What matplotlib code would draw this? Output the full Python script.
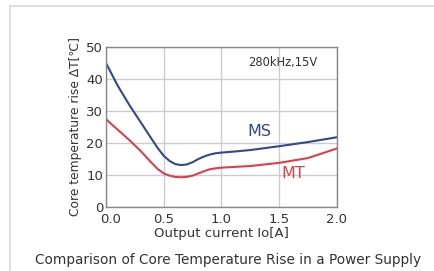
import matplotlib.pyplot as plt
from matplotlib.patches import Rectangle
from matplotlib.transforms import ScaledTranslation

# values
current = [0.0, 0.05, 0.1, 0.15, 0.2, 0.3, 0.4, 0.45, 0.5, 0.55, 0.6, 0.65, 0.7, 0.75,
           0.8, 0.85, 0.9, 0.95, 1.0, 1.1, 1.25, 1.5, 1.75, 2.0]
ms_rise = [45.0, 41.5, 38.0, 35.0, 32.0, 26.5, 21.0, 18.3, 16.0, 14.4, 13.4, 13.1,
           13.3, 14.0, 15.0, 15.8, 16.4, 16.8, 17.0, 17.3, 17.8, 19.0, 20.3, 21.8]
mt_rise = [27.5, 25.8, 24.2, 22.6, 21.0, 17.5, 13.6, 11.8, 10.5, 9.8, 9.4, 9.3,
           9.4, 9.8, 10.5, 11.2, 11.8, 12.1, 12.3, 12.5, 12.8, 13.8, 15.3, 18.3]

xticks = [0.0, 0.5, 1.0, 1.5, 2.0]
yticks = [0, 10, 20, 30, 40, 50]

blue = "#34478f"
red = "#dc3f4c"
txt = "#333333"

plt.rcParams['font.family'] = ['DejaVu Sans']

fig = plt.figure(figsize=(4.34, 2.71), dpi=100)
fig.patch.set_facecolor("white")

# light frame around the whole figure
fig.patches.append(Rectangle((10 / 434, -0.05), 1.0, 1.05 - 6 / 271,
                             transform=fig.transFigure, fill=False,
                             edgecolor="#d8d8d8", linewidth=1.2))

ax = fig.add_axes([106 / 434, 1 - 207 / 271, 231 / 434, 160 / 271])
ax.plot(current, ms_rise, color=blue, linewidth=1.5)
ax.plot(current, mt_rise, color=red, linewidth=1.5)

ax.set_xlim(0, 2.0)
ax.set_ylim(0, 50)
ax.set_xticks(xticks)
ax.set_yticks(yticks)
ax.set_xticklabels([f"{v:.1f}" for v in xticks])
ax.grid(True, color="#cccccc", linewidth=1.0)
ax.tick_params(length=0, labelsize=9.5, colors=txt)
ax.tick_params(axis="y", pad=2)
ax.tick_params(axis="x", pad=4)
for s in ax.spines.values():
    s.set_color("#888888")
    s.set_linewidth(1.0)

# nudge the "0.0" label right, like the original, so it clears the "0"
lbl = ax.get_xticklabels()[0]
lbl.set_transform(lbl.get_transform() + ScaledTranslation(5 / 100, 0, fig.dpi_scale_trans))

ax.text(1.53, 45.3, "280kHz,15V", fontsize=8.3, color=txt, ha="center", va="center")
ax.text(1.33, 23.5, "MS", fontsize=11.5, color=blue, ha="center", va="center")
ax.text(1.62, 10.5, "MT", fontsize=11.5, color=red, ha="center", va="center")

ax.set_xlabel("Output current Io[A]", fontsize=9.5, color=txt, labelpad=1)
ax.set_ylabel("Core temperature rise ΔT[℃]", fontsize=8.8, color=txt, labelpad=3)

fig.text(228 / 434, 1 - 260 / 271, "Comparison of Core Temperature Rise in a Power Supply",
         fontsize=9.8, color=txt, ha="center", va="center")

fig.savefig("out.png", dpi=100)
